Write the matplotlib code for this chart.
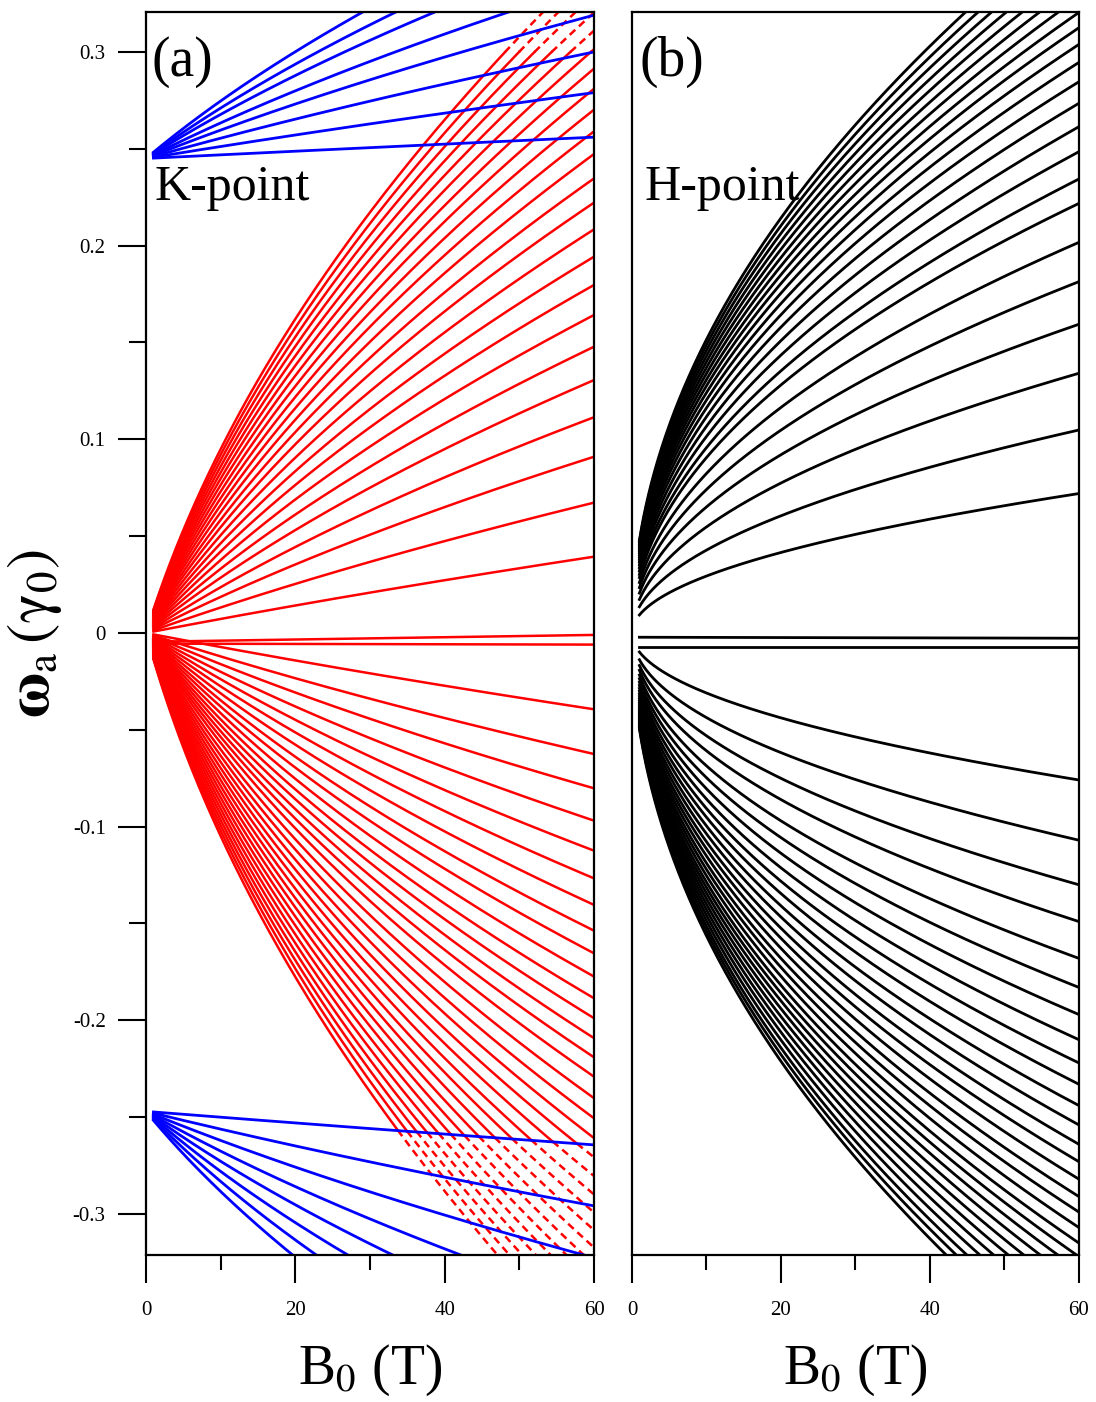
import numpy as np
import matplotlib.pyplot as plt
from matplotlib.ticker import MultipleLocator, FixedLocator

plt.rcParams['font.family'] = ['Liberation Serif', 'DejaVu Serif']
plt.rcParams['mathtext.fontset'] = 'stix'

# Level energies (gamma_0) at B0 = 60 T
# K-point, electron-like and hole-like levels
k_red_up = [0.0394, 0.0673, 0.0910, 0.1114, 0.1306, 0.1478, 0.1642, 0.1797,
            0.1943, 0.2084, 0.2222, 0.2347, 0.2473, 0.2590, 0.2702, 0.2810,
            0.2914, 0.3014, 0.3110, 0.3204, 0.3296, 0.3385, 0.3470]
k_red_dn = [-0.0394, -0.0625, -0.0802, -0.0969, -0.1124, -0.1267, -0.1404,
            -0.1537, -0.1654, -0.1774, -0.1886, -0.1989, -0.2092, -0.2191,
            -0.2291, -0.2402, -0.2506, -0.2608, -0.2707, -0.2804, -0.2899,
            -0.2992, -0.3083, -0.3173, -0.3261, -0.3348, -0.3433, -0.3517,
            -0.3599, -0.3680, -0.3760]
k_zero_start = [-0.0045, -0.0055]
k_zero_end = [-0.0010, -0.0060]
# K-point split-off levels
k_blue_up = [0.256, 0.279, 0.300, 0.319, 0.335, 0.353, 0.366, 0.380]
k_blue_dn = [-0.2643, -0.2958, -0.3226, -0.346, -0.367, -0.387, -0.406, -0.4245]
# H-point levels
h_up = [0.072, 0.1048, 0.1341, 0.1594, 0.1814, 0.2017, 0.2218, 0.2344,
        0.2485, 0.2614, 0.2735, 0.2846, 0.2946, 0.3039, 0.3125, 0.3204,
        0.3282, 0.3357, 0.3431, 0.3503, 0.3574, 0.3643, 0.3711]
h_dn = [-0.0759, -0.107, -0.130, -0.149, -0.168, -0.183, -0.197, -0.210,
        -0.222, -0.233, -0.244, -0.254, -0.264, -0.273, -0.282, -0.291,
        -0.299, -0.307, -0.315, -0.322, -0.329, -0.336, -0.343, -0.350,
        -0.357, -0.364, -0.371, -0.377, -0.383]
h_zero_start = [-0.0022, -0.0074]
h_zero_end = [-0.0027, -0.0074]

B_MAX = 60.0
K_GAP = 0.149
BLUE_GAP = 0.15
BLUE_UP0, BLUE_DN0 = 0.245, -0.247
b = np.linspace(1.0, B_MAX, 800)


def hyper(e60, gap):
    a = ((abs(e60) + gap) ** 2 - gap ** 2) / B_MAX
    return np.sqrt(gap ** 2 + a * b) - gap


def style(ax, ylabels):
    ax.set_xlim(0, 60)
    ax.set_ylim(-0.3212, 0.3206)
    ax.xaxis.set_major_locator(MultipleLocator(20))
    ax.xaxis.set_minor_locator(MultipleLocator(10))
    ax.tick_params(axis='x', which='major', direction='out', length=20, width=1.5,
                   labelsize=15, pad=13)
    ax.tick_params(axis='x', which='minor', direction='out', length=11, width=1.5)
    ax.tick_params(top=False, right=False)
    if ylabels:
        ax.yaxis.set_major_locator(FixedLocator([-0.3, -0.2, -0.1, 0, 0.1, 0.2, 0.3]))
        ax.yaxis.set_minor_locator(MultipleLocator(0.05))
        ax.set_yticklabels(['-0.3', '-0.2', '-0.1', '0', '0.1', '0.2', '0.3'])
        ax.tick_params(axis='y', which='major', direction='out', length=20, width=1.5,
                       labelsize=15, pad=9)
        ax.tick_params(axis='y', which='minor', direction='out', length=12, width=1.5)
    else:
        ax.set_yticks([])
    for s in ax.spines.values():
        s.set_linewidth(1.6)
    ax.set_xlabel(r'B$_0$ (T)', fontsize=40, labelpad=16)


fig = plt.figure(figsize=(10.96, 14.02), dpi=100)
ax1 = fig.add_axes([0.1332, 0.1048, 0.4088, 0.8866])
ax2 = fig.add_axes([0.5766, 0.1048, 0.4078, 0.8866])

# (a) K-point
blue_edge = BLUE_DN0 - hyper(k_blue_dn[0] - BLUE_DN0, BLUE_GAP)
for e60 in k_red_up + k_red_dn:
    if e60 > 0:
        e = hyper(e60, K_GAP)
        mixed = e > 0.30
    else:
        e = -hyper(e60, K_GAP)
        mixed = e < blue_edge
    solid = np.where(mixed, np.nan, e)
    dashed = np.where(mixed | np.roll(mixed, 1) | np.roll(mixed, -1), e, np.nan)
    ax1.plot(b, solid, color='red', lw=1.8)
    ax1.plot(b, dashed, color='red', lw=1.8, ls=(0, (3, 2)))
for e0, e1 in zip(k_zero_start, k_zero_end):
    ax1.plot([1.0, B_MAX], [e0, e1], color='red', lw=1.8)
for e60 in k_blue_up:
    ax1.plot(b, BLUE_UP0 + hyper(e60 - BLUE_UP0, BLUE_GAP), color='blue', lw=2.0)
for e60 in k_blue_dn:
    ax1.plot(b, BLUE_DN0 - hyper(e60 - BLUE_DN0, BLUE_GAP), color='blue', lw=2.0)

style(ax1, True)
ax1.set_ylabel(r'$\mathbf{\omega}_\mathrm{a}\,(\mathrm{\gamma}_0)$', fontsize=44, labelpad=6)
ax1.text(0.013, 0.949, '(a)', transform=ax1.transAxes, fontsize=40, va='baseline')
ax1.text(0.02, 0.849, 'K-point', transform=ax1.transAxes, fontsize=36, va='baseline')

# (b) H-point
for e60 in h_up + h_dn:
    ax2.plot(b, e60 * np.sqrt(b / B_MAX), color='black', lw=2.0)
for e0, e1 in zip(h_zero_start, h_zero_end):
    ax2.plot([1.0, B_MAX], [e0, e1], color='black', lw=2.0)

style(ax2, False)
ax2.text(0.018, 0.949, '(b)', transform=ax2.transAxes, fontsize=40, va='baseline')
ax2.text(0.029, 0.849, 'H-point', transform=ax2.transAxes, fontsize=36, va='baseline')

fig.savefig('out.png', dpi=100)
